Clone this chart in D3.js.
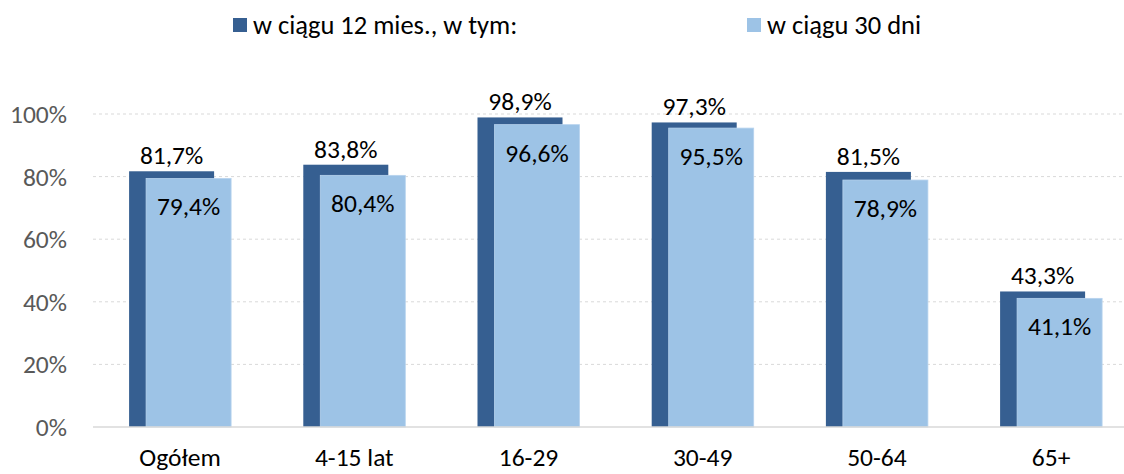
<!DOCTYPE html>
<html>
<head>
<meta charset="utf-8">
<script src="https://cdn.jsdelivr.net/npm/d3@7"></script>
<style>
  html, body { margin: 0; padding: 0; background: #ffffff; }
  svg { display: block; font-family: Carlito, Calibri, Lato, "Open Sans", sans-serif; }
</style>
</head>
<body>
<svg id="chart" width="1124" height="474"></svg>
<script>
// Grupy wiekowe
const categories = ["Ogółem", "4-15 lat", "16-29", "30-49", "50-64", "65+"];
// Odsetek w ciągu 12 miesięcy
const values12m = [81.7, 83.8, 98.9, 97.3, 81.5, 43.3];
// Odsetek w ciągu 30 dni
const values30d = [79.4, 80.4, 96.6, 95.5, 78.9, 41.1];
const seriesNames = ["w ciągu 12 mies., w tym:", "w ciągu 30 dni"];
const yTicks = [0, 20, 40, 60, 80, 100];

const colors = ["#365f91", "#9dc3e6"];
const fontSize = 25.5;
const legendFontSize = 26.5;

const svg = d3.select("#chart");
const W = 1124;

const x = d3.scaleBand()
  .domain(categories)
  .range([93, 93 + 6 * 174.2])
  .paddingInner(0)
  .paddingOuter(0);

const y = d3.scaleLinear()
  .domain([0, 100])
  .range([427, 114]);

const bw = x.bandwidth();
const barW = bw * 0.488;
const shift = bw * 0.0976;
const fmt = v => d3.format(".1f")(v).replace(".", ",") + "%";
const center = c => x(c) + bw / 2;
const x12 = c => center(c) - shift / 2;   // środek słupka 12 mies.
const x30 = c => center(c) + shift / 2;   // środek słupka 30 dni

// Siatka
svg.append("g")
  .selectAll("line")
  .data(yTicks.filter(t => t > 0))
  .join("line")
  .attr("x1", 93).attr("x2", W)
  .attr("y1", d => y(d)).attr("y2", d => y(d))
  .attr("stroke", "#d9d9d9")
  .attr("stroke-width", 1)
  .attr("stroke-dasharray", "3,3");

// Etykiety osi Y
svg.append("g")
  .selectAll("text")
  .data(yTicks)
  .join("text")
  .attr("x", 67)
  .attr("y", d => y(d))
  .attr("dy", "0.35em")
  .attr("text-anchor", "end")
  .attr("fill", "#595959")
  .attr("font-size", fontSize)
  .text(d => d + "%");

// Słupki: 12 miesięcy (tło) i 30 dni (na wierzchu, przesunięte)
const g = svg.append("g");

g.selectAll("rect.s12")
  .data(categories)
  .join("rect")
  .attr("class", "s12")
  .attr("x", c => x12(c) - barW / 2)
  .attr("width", barW)
  .attr("y", (c, i) => y(values12m[i]))
  .attr("height", (c, i) => y(0) - y(values12m[i]))
  .attr("fill", colors[0]);

g.selectAll("rect.s30")
  .data(categories)
  .join("rect")
  .attr("class", "s30")
  .attr("x", c => x30(c) - barW / 2)
  .attr("width", barW)
  .attr("y", (c, i) => y(values30d[i]))
  .attr("height", (c, i) => y(0) - y(values30d[i]))
  .attr("fill", colors[1])
  .attr("stroke", "#b7d3ee")
  .attr("stroke-width", 0.8);

// Oś X
svg.append("line")
  .attr("x1", 93).attr("x2", W)
  .attr("y1", y(0)).attr("y2", y(0))
  .attr("stroke", "#d9d9d9")
  .attr("stroke-width", 1.5);

// Wartości nad słupkami 12 mies.
g.selectAll("text.l12")
  .data(categories)
  .join("text")
  .attr("class", "l12")
  .attr("x", c => x12(c))
  .attr("y", (c, i) => y(values12m[i]) - 7)
  .attr("text-anchor", "middle")
  .attr("fill", "#000")
  .attr("font-size", fontSize)
  .text((c, i) => fmt(values12m[i]));

// Wartości wewnątrz słupków 30 dni
g.selectAll("text.l30")
  .data(categories)
  .join("text")
  .attr("class", "l30")
  .attr("x", c => x30(c))
  .attr("y", (c, i) => y(values30d[i]) + 37)
  .attr("text-anchor", "middle")
  .attr("fill", "#000")
  .attr("font-size", fontSize)
  .text((c, i) => fmt(values30d[i]));

// Etykiety kategorii
svg.append("g")
  .selectAll("text")
  .data(categories)
  .join("text")
  .attr("x", c => center(c))
  .attr("y", 466)
  .attr("text-anchor", "middle")
  .attr("fill", "#000")
  .attr("font-size", fontSize)
  .text(c => c);

// Legenda
const legendX = [233, 747];
const leg = svg.append("g")
  .selectAll("g")
  .data(seriesNames)
  .join("g")
  .attr("transform", (d, i) => `translate(${legendX[i]},18)`);
leg.append("rect")
  .attr("width", 14).attr("height", 14)
  .attr("fill", (d, i) => colors[i]);
leg.append("text")
  .attr("x", 20)
  .attr("y", 16)
  .attr("fill", "#000")
  .attr("font-size", legendFontSize)
  .text(d => d);
</script>
</body>
</html>
